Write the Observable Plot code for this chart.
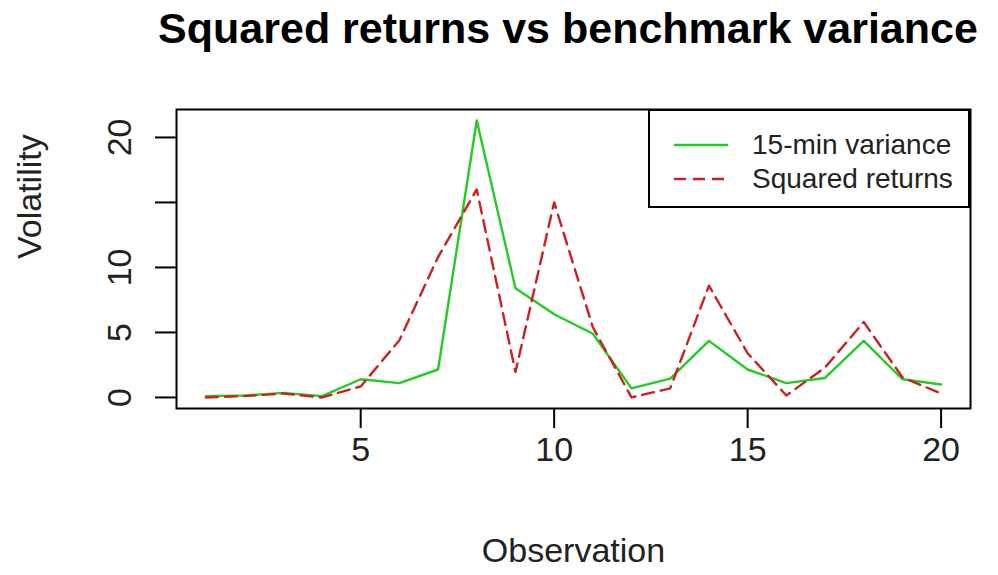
<!DOCTYPE html>
<html>
<head>
<meta charset="utf-8">
<script src="https://cdn.jsdelivr.net/npm/d3@7"></script>
<script src="https://cdn.jsdelivr.net/npm/@observablehq/plot@0.6"></script>
<style>
  html, body { margin: 0; padding: 0; background: #fff; }
  #wrap { position: relative; width: 998px; height: 575px; overflow: hidden; font-family: "Liberation Sans", Arial, sans-serif; }
  #title { position: absolute; left: 568px; transform: translateX(-50%); top: 3px; font-weight: bold; font-size: 43px; color: #000; white-space: nowrap; line-height: 50px; }
  #chart { position: absolute; left: 0; top: 0; }
  #legend { position: absolute; left: 648px; top: 109px; width: 318px; height: 95px; border: 2px solid #000; background: #fff; }
  .li { position: absolute; left: 0; height: 34px; display: flex; align-items: center; font-size: 28px; color: #222; }
  .li svg { margin-left: 24px; margin-right: 24px; }
</style>
</head>
<body>
<div id="wrap">
  <div id="chart"></div>
  <div id="title">Squared returns vs benchmark variance</div>
  <div id="legend"></div>
</div>
<script>
const observation = [1,2,3,4,5,6,7,8,9,10,11,12,13,14,15,16,17,18,19,20];
const variance15 = [0.1,0.15,0.35,0.1,1.4,1.1,2.15,21.3,8.4,6.4,4.9,0.7,1.45,4.35,2.15,1.1,1.5,4.35,1.4,1.0];
const squaredReturns = [0.0,0.1,0.3,0.0,0.85,4.4,10.8,16.0,1.95,15.0,5.4,0.0,0.7,8.6,3.4,0.15,2.3,5.8,1.55,0.3];
const seriesNames = ["15-min variance", "Squared returns"];
const seriesColors = ["#22cc22", "#cc2020"];
const xTicks = [5,10,15,20];
const yTicks = [0,5,10,15,20];
const yTickLabels = ["0","5","10","","20"];

const rows = [];
observation.forEach((o,i) => {
  rows.push({obs:o, v:variance15[i], s:seriesNames[0]});
  rows.push({obs:o, v:squaredReturns[i], s:seriesNames[1]});
});
const yLabelRows = yTicks.map((t,i) => ({t, label: yTickLabels[i]}));

const plot = Plot.plot({
  width: 998,
  height: 575,
  marginLeft: 176,
  marginRight: 28,
  marginTop: 109,
  marginBottom: 167,
  style: {fontFamily: "Liberation Sans, Arial, sans-serif", background: "#fff", color: "#222"},
  x: {domain: [0.24, 20.76]},
  y: {domain: [-0.85, 22.15]},
  marks: [
    Plot.line(rows.filter(d => d.s === seriesNames[0]), {x: "obs", y: "v", stroke: seriesColors[0], strokeWidth: 2.4}),
    Plot.line(rows.filter(d => d.s === seriesNames[1]), {x: "obs", y: "v", stroke: seriesColors[1], strokeWidth: 2.4, strokeDasharray: "12,7"}),
    Plot.frame({stroke: "#000", strokeWidth: 2}),
    Plot.axisX({ticks: xTicks, tickSize: 20, tickPadding: 8, fontSize: 34, strokeWidth: 2, stroke: "#000", label: null, tickFormat: d => String(d)}),
    Plot.axisY({ticks: yTicks, tickSize: 21, strokeWidth: 2, stroke: "#000", label: null, text: null}),
    Plot.text(yLabelRows, {y: "t", text: "label", frameAnchor: "left", dx: -56, rotate: -90, fontSize: 34, fill: "#222", textAnchor: "middle", lineAnchor: "middle"}),
    Plot.text(["Observation"], {frameAnchor: "bottom", dy: 143, fontSize: 34, fill: "#222", lineAnchor: "middle"}),
    Plot.text(["Volatility"], {frameAnchor: "left", dx: -146, rotate: -90, fontSize: 34, fill: "#222", lineAnchor: "middle"})
  ]
});
document.getElementById("chart").appendChild(plot);

const leg = document.getElementById("legend");
seriesNames.forEach((name, i) => {
  const row = document.createElement("div");
  row.className = "li";
  row.style.top = (i === 0 ? 17 : 51) + "px";
  const dash = i === 1 ? 'stroke-dasharray="12,7"' : "";
  row.innerHTML = `<svg width="54" height="6"><line x1="0" y1="3" x2="54" y2="3" stroke="${seriesColors[i]}" stroke-width="2.4" ${dash}/></svg><span>${name}</span>`;
  leg.appendChild(row);
});
</script>
</body>
</html>
